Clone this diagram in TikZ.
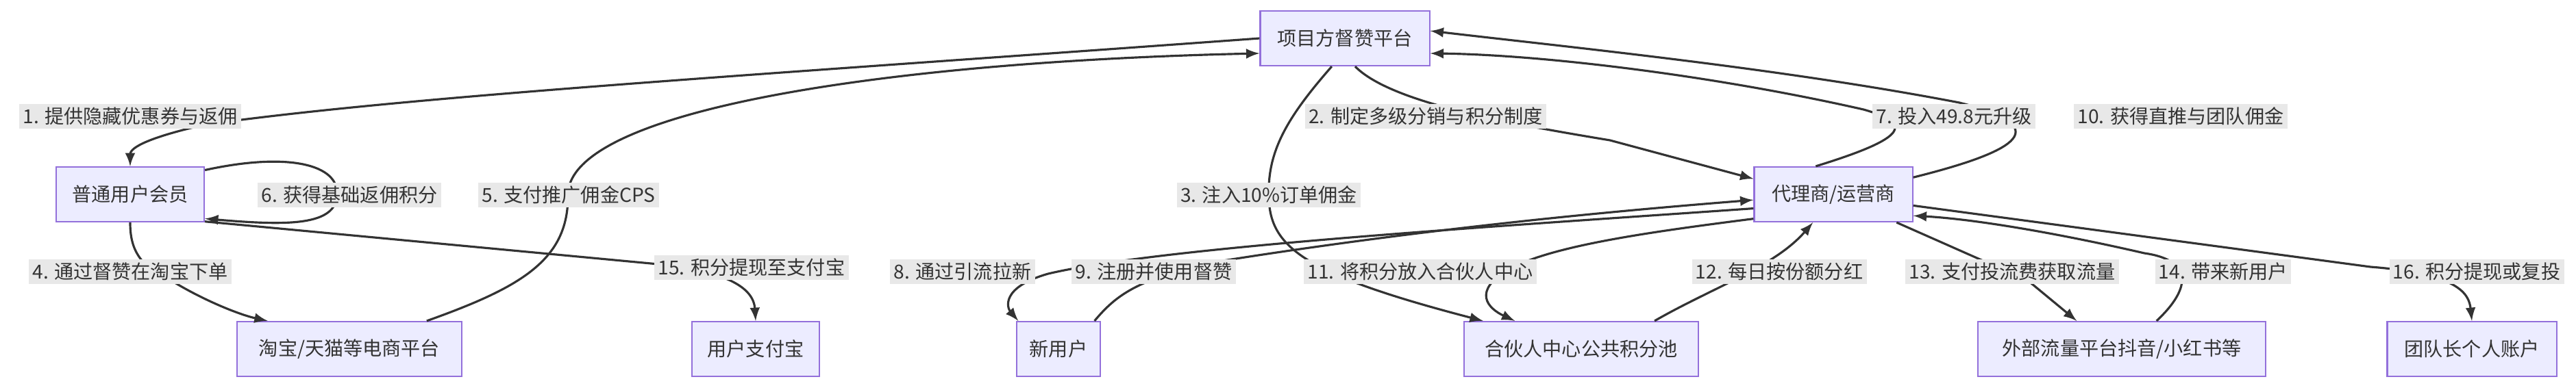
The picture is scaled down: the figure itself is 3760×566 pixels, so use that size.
\documentclass[tikz,border=0pt]{standalone}
\usepackage{fontspec}
\setmainfont{Noto Sans CJK SC}
\usetikzlibrary{positioning,arrows}
\definecolor{boxfill}{HTML}{ECECFF}
\definecolor{boxline}{HTML}{9370DB}
\definecolor{ink}{HTML}{333333}
\definecolor{lblfill}{HTML}{E8E8E8}
\tikzset{
  box/.style={draw=boxline,fill=boxfill,line width=0.6pt,minimum height=0.8cm,inner xsep=0pt,text=ink,font=\fontsize{8}{10}\selectfont},
  lbl/.style={fill=lblfill,inner sep=1.5pt,text=ink,font=\fontsize{8}{10}\selectfont},
  flow/.style={->,draw=ink,line width=0.9pt}
}
\begin{document}
\begin{tikzpicture}[>=latex,x=0.01cm,y=-0.01cm]
\useasboundingbox (0,0) rectangle (3760,566);
% boxes
\node[box,minimum width=2.47cm] (plat) at (1963,56) {项目方督赞平台};
\node[box,minimum width=2.16cm] (member) at (190,284) {普通用户会员};
\node[box,minimum width=2.31cm] (agent) at (2676,284) {代理商/运营商};
\node[box,minimum width=3.27cm] (taobao) at (510,510) {淘宝/天猫等电商平台};
\node[box,minimum width=1.86cm] (alipay) at (1103,510) {用户支付宝};
\node[box,minimum width=1.22cm] (newu) at (1545,510) {新用户};
\node[box,minimum width=3.41cm] (pool) at (2308,510) {合伙人中心公共积分池};
\node[box,minimum width=4.2cm] (ext) at (3097,510) {外部流量平台抖音/小红书等};
\node[box,minimum width=2.47cm] (leader) at (3608,510) {团队长个人账户};

% edges
\draw[flow] (plat.west) .. controls (1100,110) and (600,140) .. (300,182) .. controls (220,200) and (190,215) .. (member.north);
\draw[flow] (plat.290) .. controls (2030,150) and (2200,180) .. (2350,205) -- (agent.169);
\draw[flow] (plat.245) .. controls (1880,170) and (1850,220) .. (1852,285) .. controls (1852,360) and (1900,400) .. (pool.164);
\draw[flow] (member.south) .. controls (190,360) and (200,390) .. (255,413) .. controls (300,440) and (350,460) .. (taobao.161);
\draw[flow] (taobao.20) .. controls (760,420) and (830,380) .. (829,285) .. controls (829,160) and (1300,90) .. (plat.190);
\draw[flow] (member.18) .. controls (420,222) and (495,240) .. (492,285) .. controls (490,330) and (420,330) .. (member.342);
\draw[flow] (member.340) -- (950,385) .. controls (1060,395) and (1100,420) .. (alipay.north);
\draw[flow] (agent.122) .. controls (2790,200) and (2790,180) .. (2720,160) .. controls (2500,110) and (2250,80) .. (plat.350);
\draw[flow] (agent.12) .. controls (2950,220) and (3000,185) .. (2860,150) .. controls (2600,100) and (2300,70) .. (plat.5);
\draw[flow] (agent.190) .. controls (2200,330) and (1700,360) .. (1530,400) .. controls (1460,420) and (1470,450) .. (newu.145);
\draw[flow] (newu.38) .. controls (1630,430) and (1660,410) .. (1760,385) .. controls (2100,330) and (2400,305) .. (agent.184);
\draw[flow] (agent.197) .. controls (2400,340) and (2260,360) .. (2200,395) .. controls (2150,425) and (2170,450) .. (pool.157);
\draw[flow] (pool.21) .. controls (2500,420) and (2590,390) .. (agent.234);
\draw[flow] (agent.336) -- (2960,410) -- (ext.148);
\draw[flow] (ext.39) .. controls (3200,420) and (3200,380) .. (3130,370) .. controls (3000,340) and (2880,320) .. (agent.345);
\draw[flow] (agent.352) -- (3460,390) .. controls (3590,400) and (3604,430) .. (leader.north);

% labels
\node[lbl] (l1) at (190,170) {1. 提供隐藏优惠券与返佣};
\node[lbl] (l2) at (2081,170) {2. 制定多级分销与积分制度};
\node[lbl] (l3) at (1852,285) {3. 注入10\%订单佣金};
\node[lbl] (l4) at (190,397) {4. 通过督赞在淘宝下单};
\node[lbl] (l5) at (830,285) {5. 支付推广佣金CPS};
\node[lbl] (l6) at (510,285) {6. 获得基础返佣积分};
\node[lbl] (l7) at (2852,170) {7. 投入49.8元升级};
\node[lbl] (l8) at (1405,397) {8. 通过引流拉新};
\node[lbl] (l9) at (1684,397) {9. 注册并使用督赞};
\node[lbl] (l10) at (3183,170) {10. 获得直推与团队佣金};
\node[lbl] (l11) at (2073,397) {11. 将积分放入合伙人中心};
\node[lbl] (l12) at (2597,397) {12. 每日按份额分红};
\node[lbl] (l13) at (2937,397) {13. 支付投流费获取流量};
\node[lbl] (l14) at (3245,397) {14. 带来新用户};
\node[lbl] (l15) at (1097,391) {15. 积分提现至支付宝};
\node[lbl] (l16) at (3615,397) {16. 积分提现或复投};
\end{tikzpicture}
\end{document}
